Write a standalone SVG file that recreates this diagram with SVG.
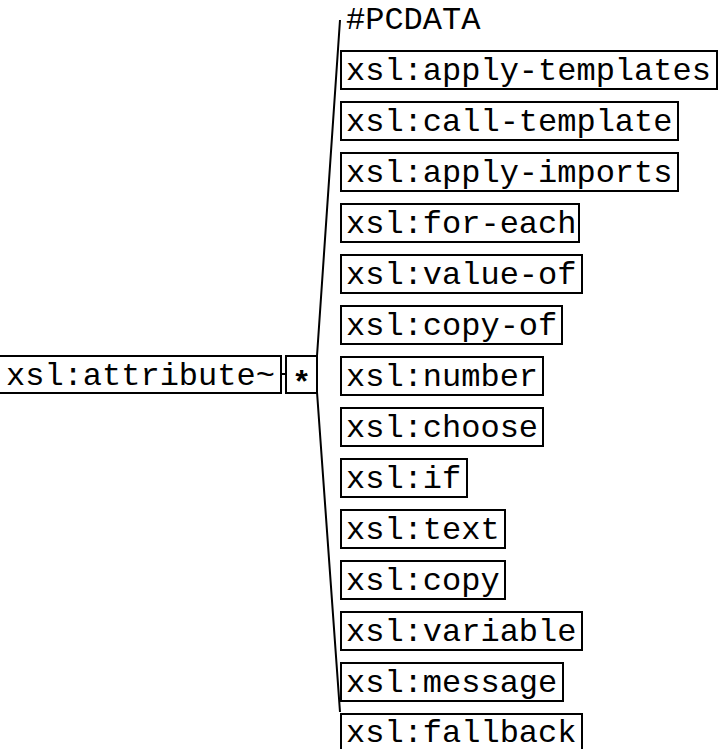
<svg xmlns="http://www.w3.org/2000/svg" width="720" height="749" viewBox="0 0 720 749">
<style>
  .box { fill: #fff; stroke: #000; stroke-width: 2; }
  .t { font-family: "Liberation Mono", "Courier New", monospace; font-size: 32px; fill: #000; }
  .c { fill: none; stroke: #000; stroke-width: 2; }
</style>
<rect x="0" y="0" width="720" height="749" fill="#fff"/>
<g id="connectors">
  <line class="c" x1="281" y1="374" x2="286" y2="374"/>
  <polyline class="c" points="340,20 317,356 317,392 340,712"/>
</g>
<g id="n-attribute"><rect class="box" x="-1" y="356" width="282" height="37"/><text class="t" x="6" y="385">xsl:attribute~</text></g>
<g id="n-star"><rect class="box" x="286" y="356" width="31" height="37"/><text class="t" x="301.5" y="393" text-anchor="middle" font-weight="bold" font-size="42">*</text></g>
<g id="n-pcdata"><text class="t" x="346" y="29">#PCDATA</text></g>
<g id="n-apply-templates"><rect class="box" x="341" y="51" width="376" height="38"/><text class="t" x="346" y="80">xsl:apply-templates</text></g>
<g id="n-call-template"><rect class="box" x="341" y="102" width="337" height="38"/><text class="t" x="346" y="131">xsl:call-template</text></g>
<g id="n-apply-imports"><rect class="box" x="341" y="153" width="337" height="38"/><text class="t" x="346" y="182">xsl:apply-imports</text></g>
<g id="n-for-each"><rect class="box" x="341" y="204" width="238" height="38"/><text class="t" x="346" y="233">xsl:for-each</text></g>
<g id="n-value-of"><rect class="box" x="341" y="255" width="241" height="38"/><text class="t" x="346" y="284">xsl:value-of</text></g>
<g id="n-copy-of"><rect class="box" x="341" y="306" width="221" height="38"/><text class="t" x="346" y="335">xsl:copy-of</text></g>
<g id="n-number"><rect class="box" x="341" y="357" width="202" height="38"/><text class="t" x="346" y="386">xsl:number</text></g>
<g id="n-choose"><rect class="box" x="341" y="408" width="202" height="38"/><text class="t" x="346" y="437">xsl:choose</text></g>
<g id="n-if"><rect class="box" x="341" y="459" width="126" height="38"/><text class="t" x="346" y="488">xsl:if</text></g>
<g id="n-text"><rect class="box" x="341" y="510" width="164" height="38"/><text class="t" x="346" y="539">xsl:text</text></g>
<g id="n-copy"><rect class="box" x="341" y="561" width="164" height="38"/><text class="t" x="346" y="590">xsl:copy</text></g>
<g id="n-variable"><rect class="box" x="341" y="612" width="241" height="38"/><text class="t" x="346" y="641">xsl:variable</text></g>
<g id="n-message"><rect class="box" x="341" y="663" width="222" height="38"/><text class="t" x="346" y="692">xsl:message</text></g>
<g id="n-fallback"><rect class="box" x="341" y="714" width="241" height="38"/><text class="t" x="346" y="742">xsl:fallback</text></g>
</svg>
